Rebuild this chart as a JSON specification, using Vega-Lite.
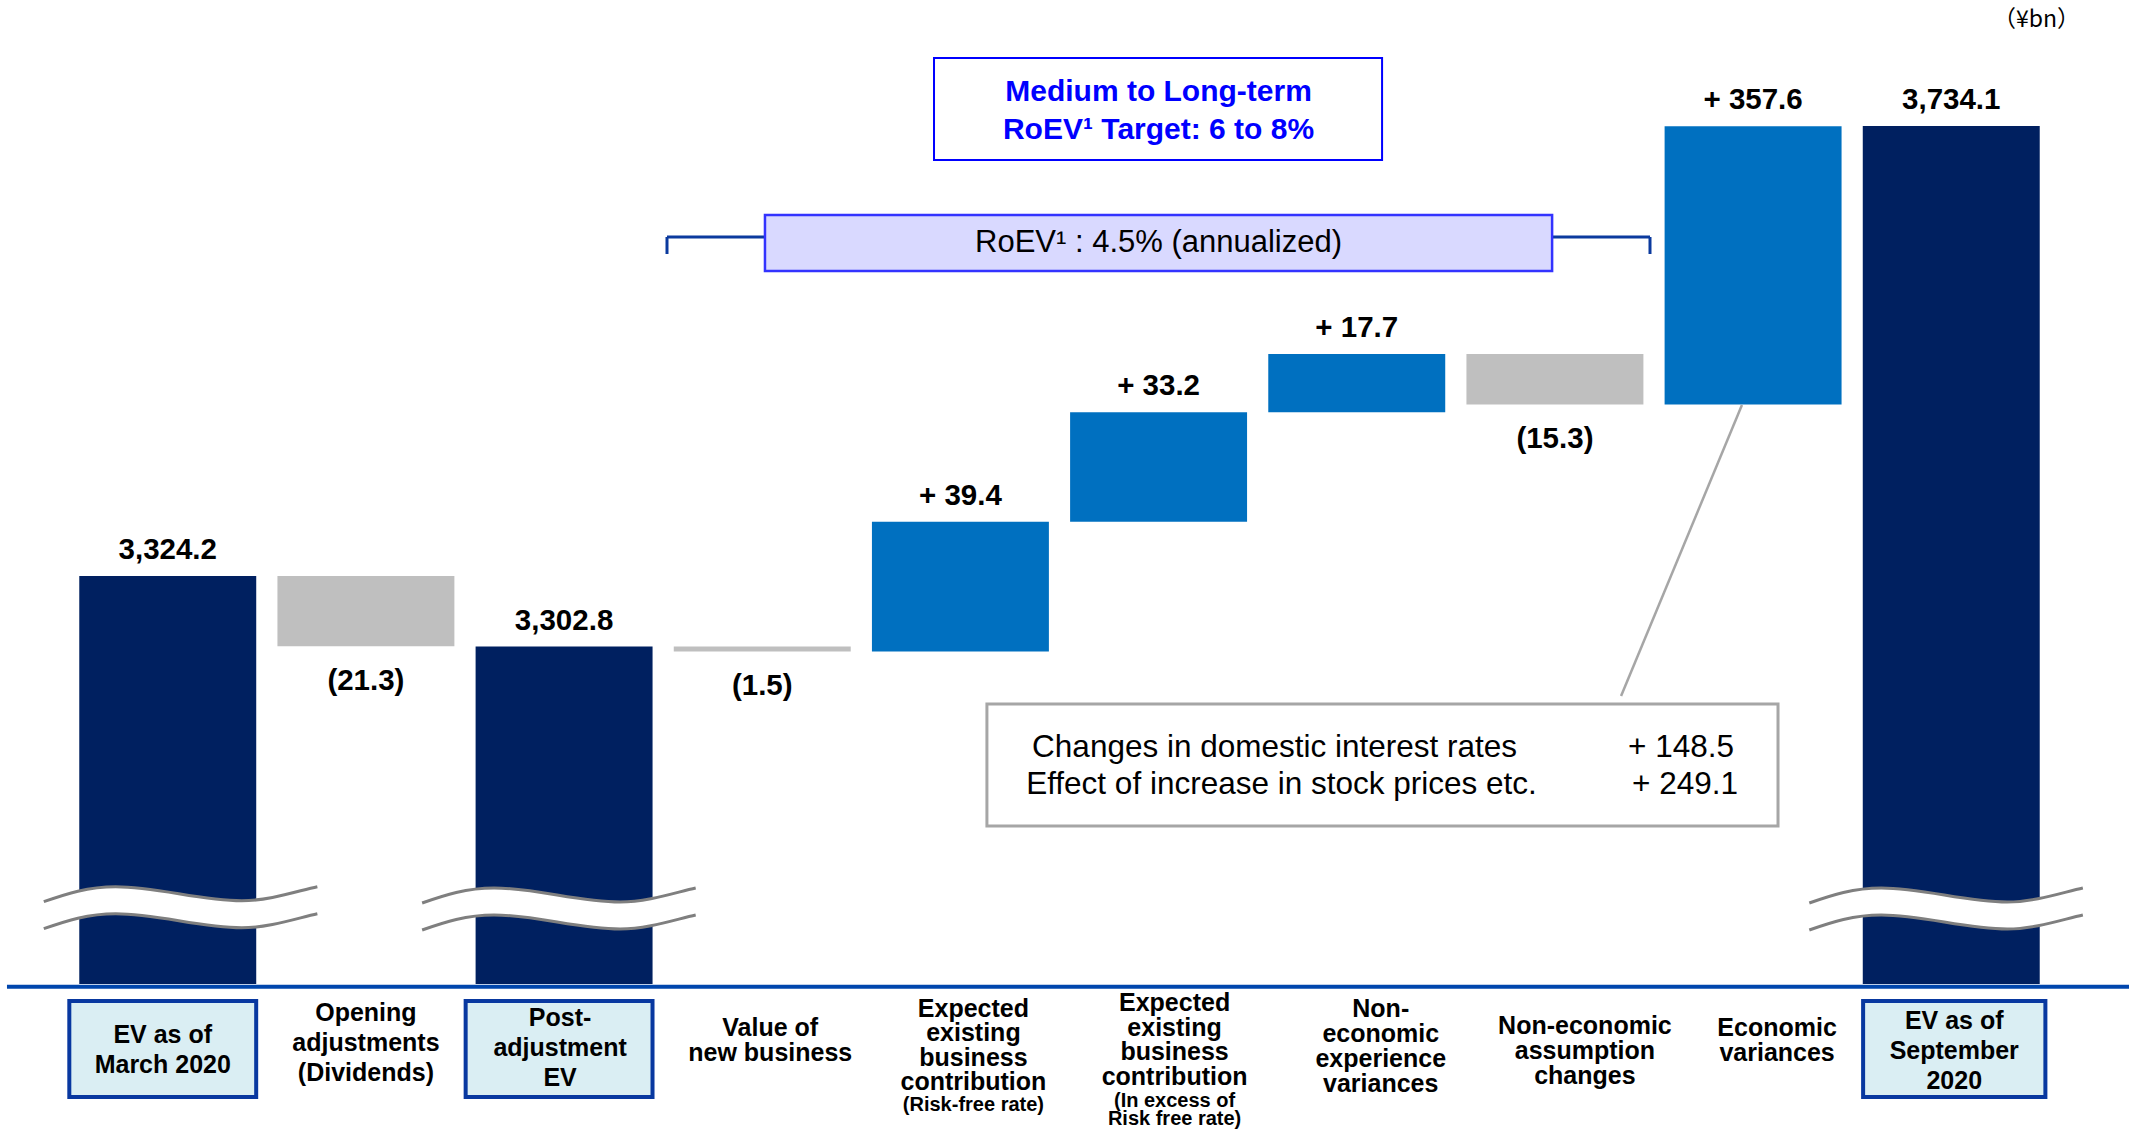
{
  "$schema": "https://vega.github.io/schema/vega-lite/v6.json",
  "width": 2129,
  "height": 1132,
  "padding": 0,
  "autosize": "none",
  "background": "white",
  "config": {
    "view": {"stroke": null},
    "axis": {"disable": true},
    "text": {"font": "Liberation Sans", "color": "#000000"}
  },
  "layer": [
    {
      "data": {
        "values": [
          {"cat": "EV as of March 2020", "label": "EV as of\nMarch 2020", "kind": "total", "start": 0, "end": 3324.2, "text": "3,324.2"},
          {"cat": "Opening adjustments (Dividends)", "label": "Opening\nadjustments\n(Dividends)", "kind": "decrease", "start": 3324.2, "end": 3302.9, "text": "(21.3)"},
          {"cat": "Post-adjustment EV", "label": "Post-\nadjustment\nEV", "kind": "total", "start": 0, "end": 3302.8, "text": "3,302.8"},
          {"cat": "Value of new business", "label": "Value of\nnew business", "kind": "decrease", "start": 3302.8, "end": 3301.3, "text": "(1.5)"},
          {"cat": "Expected existing business contribution (Risk-free rate)", "label": "Expected\nexisting\nbusiness\ncontribution", "sub": "(Risk-free rate)", "kind": "increase", "start": 3301.3, "end": 3340.7, "text": "+ 39.4"},
          {"cat": "Expected existing business contribution (In excess of Risk free rate)", "label": "Expected\nexisting\nbusiness\ncontribution", "sub": "(In excess of\nRisk free rate)", "kind": "increase", "start": 3340.7, "end": 3373.9, "text": "+ 33.2"},
          {"cat": "Non-economic experience variances", "label": "Non-\neconomic\nexperience\nvariances", "kind": "increase", "start": 3373.9, "end": 3391.6, "text": "+ 17.7"},
          {"cat": "Non-economic assumption changes", "label": "Non-economic\nassumption\nchanges", "kind": "decrease", "start": 3391.6, "end": 3376.3, "text": "(15.3)"},
          {"cat": "Economic variances", "label": "Economic\nvariances", "kind": "increase", "start": 3376.3, "end": 3733.9, "text": "+ 357.6"},
          {"cat": "EV as of September 2020", "label": "EV as of\nSeptember\n2020", "kind": "total", "start": 0, "end": 3734.1, "text": "3,734.1"}
        ]
      },
      "encoding": {
        "x": {"field": "cat", "type": "nominal", "sort": null, "axis": null,
              "scale": {"range": [0, 2119], "paddingInner": 0.107, "paddingOuter": 0.4}}
      },
      "layer": [
        {
          "mark": {"type": "bar"},
          "encoding": {
            "y": {"field": "start", "type": "quantitative", "axis": null,
                  "scale": {"domain": [0, 3290, 3391.6, 3734.1, 3920], "range": [984, 688.7, 354, 126, 0], "nice": false, "zero": false}},
            "y2": {"field": "end"},
            "color": {"field": "kind", "type": "nominal", "legend": null,
                      "scale": {"domain": ["total", "increase", "decrease"], "range": ["#002060", "#0070C0", "#BFBFBF"]}}
          }
        },
        {
          "transform": [{"filter": "datum.kind == 'total' && datum.cat != 'EV as of March 2020'"}],
          "mark": {"type": "point", "shape": "M-1.014,-0.043 C-0.85,-0.1 -0.7,-0.15 -0.5,-0.15 C-0.2,-0.15 0.1,-0.05 0.4,-0.05 C0.6,-0.05 0.8,-0.12 0.94,-0.15 L0.94,0.043 C0.8,0.073 0.6,0.143 0.4,0.143 C0.1,0.143 -0.2,0.043 -0.5,0.043 C-0.7,0.043 -0.85,0.093 -1.014,0.15 Z",
                   "size": 78400, "filled": true, "fill": "#ffffff", "strokeWidth": 0, "opacity": 1},
          "encoding": {"y": {"datum": 835.6, "type": "quantitative", "scale": {"domain": [0, 3290, 3391.6, 3734.1, 3920], "range": [984, 688.7, 354, 126, 0], "nice": false, "zero": false}}}
        },
        {
          "transform": [{"filter": "datum.kind == 'total' && datum.cat != 'EV as of March 2020'"}],
          "mark": {"type": "point", "shape": "M-1.014,-0.043 C-0.85,-0.1 -0.7,-0.15 -0.5,-0.15 C-0.2,-0.15 0.1,-0.05 0.4,-0.05 C0.6,-0.05 0.8,-0.12 0.94,-0.15 M-1.014,0.15 C-0.85,0.093 -0.7,0.043 -0.5,0.043 C-0.2,0.043 0.1,0.143 0.4,0.143 C0.6,0.143 0.8,0.073 0.94,0.043",
                   "size": 78400, "filled": false, "stroke": "#7F7F7F", "strokeWidth": 3, "opacity": 1},
          "encoding": {"y": {"datum": 835.6, "type": "quantitative", "scale": {"domain": [0, 3290, 3391.6, 3734.1, 3920], "range": [984, 688.7, 354, 126, 0], "nice": false, "zero": false}}}
        },
        {
          "transform": [{"filter": "datum.cat == 'EV as of March 2020'"}],
          "mark": {"type": "point", "xOffset": 18, "shape": "M-1.014,-0.043 C-0.85,-0.1 -0.7,-0.15 -0.5,-0.15 C-0.2,-0.15 0.1,-0.05 0.4,-0.05 C0.6,-0.05 0.8,-0.12 0.94,-0.15 L0.94,0.043 C0.8,0.073 0.6,0.143 0.4,0.143 C0.1,0.143 -0.2,0.043 -0.5,0.043 C-0.7,0.043 -0.85,0.093 -1.014,0.15 Z",
                   "size": 78400, "filled": true, "fill": "#ffffff", "strokeWidth": 0, "opacity": 1},
          "encoding": {"y": {"datum": 850, "type": "quantitative", "scale": {"domain": [0, 3290, 3391.6, 3734.1, 3920], "range": [984, 688.7, 354, 126, 0], "nice": false, "zero": false}}}
        },
        {
          "transform": [{"filter": "datum.cat == 'EV as of March 2020'"}],
          "mark": {"type": "point", "xOffset": 18, "shape": "M-1.014,-0.043 C-0.85,-0.1 -0.7,-0.15 -0.5,-0.15 C-0.2,-0.15 0.1,-0.05 0.4,-0.05 C0.6,-0.05 0.8,-0.12 0.94,-0.15 M-1.014,0.15 C-0.85,0.093 -0.7,0.043 -0.5,0.043 C-0.2,0.043 0.1,0.143 0.4,0.143 C0.6,0.143 0.8,0.073 0.94,0.043",
                   "size": 78400, "filled": false, "stroke": "#7F7F7F", "strokeWidth": 3, "opacity": 1},
          "encoding": {"y": {"datum": 850, "type": "quantitative", "scale": {"domain": [0, 3290, 3391.6, 3734.1, 3920], "range": [984, 688.7, 354, 126, 0], "nice": false, "zero": false}}}
        },
        {
          "transform": [{"filter": "datum.kind != 'decrease'"}],
          "mark": {"type": "text", "fontSize": 29.5, "fontWeight": "bold", "baseline": "middle", "dy": -26},
          "encoding": {
            "y": {"field": "end", "type": "quantitative", "scale": {"domain": [0, 3290, 3391.6, 3734.1, 3920], "range": [984, 688.7, 354, 126, 0], "nice": false, "zero": false}},
            "text": {"field": "text"}
          }
        },
        {
          "transform": [{"filter": "datum.kind == 'decrease'"}],
          "mark": {"type": "text", "fontSize": 29.5, "fontWeight": "bold", "baseline": "middle", "dy": 35},
          "encoding": {
            "y": {"field": "end", "type": "quantitative", "scale": {"domain": [0, 3290, 3391.6, 3734.1, 3920], "range": [984, 688.7, 354, 126, 0], "nice": false, "zero": false}},
            "text": {"field": "text"}
          }
        },
        {
          "transform": [{"filter": {"field": "cat", "oneOf": ["EV as of March 2020", "Post-adjustment EV"]}}],
          "mark": {"type": "bar", "width": {"band": 1.056}, "xOffset": -5, "fill": "#DAEEF3", "stroke": "#0838A0", "strokeWidth": 4},
          "encoding": {
            "y": {"datum": -189.4, "type": "quantitative", "scale": {"domain": [0, 3290, 3391.6, 3734.1, 3920], "range": [984, 688.7, 354, 126, 0], "nice": false, "zero": false}},
            "y2": {"datum": -1259}
          }
        },
        {
          "transform": [{"filter": "datum.cat == 'EV as of September 2020'"}],
          "mark": {"type": "bar", "width": {"band": 1.03}, "xOffset": 3, "fill": "#DAEEF3", "stroke": "#0838A0", "strokeWidth": 4},
          "encoding": {
            "y": {"datum": -189.4, "type": "quantitative", "scale": {"domain": [0, 3290, 3391.6, 3734.1, 3920], "range": [984, 688.7, 354, 126, 0], "nice": false, "zero": false}},
            "y2": {"datum": -1259}
          }
        },
        {
          "transform": [{"filter": "datum.cat == 'EV as of March 2020'"}],
          "mark": {"type": "text", "fontSize": 25, "fontWeight": "bold", "baseline": "middle", "lineBreak": "\n", "lineHeight": 30, "dx": -5},
          "encoding": {
            "y": {"datum": -564.9, "type": "quantitative", "scale": {"domain": [0, 3290, 3391.6, 3734.1, 3920], "range": [984, 688.7, 354, 126, 0], "nice": false, "zero": false}},
            "text": {"field": "label"}
          }
        },
        {
          "transform": [{"filter": "datum.cat == 'Opening adjustments (Dividends)'"}],
          "mark": {"type": "text", "fontSize": 25, "fontWeight": "bold", "baseline": "middle", "lineBreak": "\n", "lineHeight": 30, "dx": 0},
          "encoding": {
            "y": {"datum": -323.1, "type": "quantitative", "scale": {"domain": [0, 3290, 3391.6, 3734.1, 3920], "range": [984, 688.7, 354, 126, 0], "nice": false, "zero": false}},
            "text": {"field": "label"}
          }
        },
        {
          "transform": [{"filter": "datum.cat == 'Post-adjustment EV'"}],
          "mark": {"type": "text", "fontSize": 25, "fontWeight": "bold", "baseline": "middle", "lineBreak": "\n", "lineHeight": 30, "dx": -4},
          "encoding": {
            "y": {"datum": -378.8, "type": "quantitative", "scale": {"domain": [0, 3290, 3391.6, 3734.1, 3920], "range": [984, 688.7, 354, 126, 0], "nice": false, "zero": false}},
            "text": {"field": "label"}
          }
        },
        {
          "transform": [{"filter": "datum.cat == 'EV as of September 2020'"}],
          "mark": {"type": "text", "fontSize": 25, "fontWeight": "bold", "baseline": "middle", "lineBreak": "\n", "lineHeight": 30, "dx": 3},
          "encoding": {
            "y": {"datum": -412.2, "type": "quantitative", "scale": {"domain": [0, 3290, 3391.6, 3734.1, 3920], "range": [984, 688.7, 354, 126, 0], "nice": false, "zero": false}},
            "text": {"field": "label"}
          }
        },
        {
          "transform": [{"filter": "datum.cat == 'Value of new business'"}],
          "mark": {"type": "text", "fontSize": 25, "fontWeight": "bold", "baseline": "middle", "lineBreak": "\n", "lineHeight": 25, "dx": 8},
          "encoding": {
            "y": {"datum": -490.2, "type": "quantitative", "scale": {"domain": [0, 3290, 3391.6, 3734.1, 3920], "range": [984, 688.7, 354, 126, 0], "nice": false, "zero": false}},
            "text": {"field": "label"}
          }
        },
        {
          "transform": [{"filter": "datum.cat == 'Expected existing business contribution (Risk-free rate)'"}],
          "mark": {"type": "text", "fontSize": 25, "fontWeight": "bold", "baseline": "middle", "lineBreak": "\n", "lineHeight": 24.5, "dx": 13},
          "encoding": {
            "y": {"datum": -278.5, "type": "quantitative", "scale": {"domain": [0, 3290, 3391.6, 3734.1, 3920], "range": [984, 688.7, 354, 126, 0], "nice": false, "zero": false}},
            "text": {"field": "label"}
          }
        },
        {
          "transform": [{"filter": "datum.cat == 'Expected existing business contribution (In excess of Risk free rate)'"}],
          "mark": {"type": "text", "fontSize": 25, "fontWeight": "bold", "baseline": "middle", "lineBreak": "\n", "lineHeight": 24.5, "dx": 16},
          "encoding": {
            "y": {"datum": -211.7, "type": "quantitative", "scale": {"domain": [0, 3290, 3391.6, 3734.1, 3920], "range": [984, 688.7, 354, 126, 0], "nice": false, "zero": false}},
            "text": {"field": "label"}
          }
        },
        {
          "transform": [{"filter": "datum.cat == 'Non-economic experience variances'"}],
          "mark": {"type": "text", "fontSize": 25, "fontWeight": "bold", "baseline": "middle", "lineBreak": "\n", "lineHeight": 25, "dx": 24},
          "encoding": {
            "y": {"datum": -278.5, "type": "quantitative", "scale": {"domain": [0, 3290, 3391.6, 3734.1, 3920], "range": [984, 688.7, 354, 126, 0], "nice": false, "zero": false}},
            "text": {"field": "label"}
          }
        },
        {
          "transform": [{"filter": "datum.cat == 'Non-economic assumption changes'"}],
          "mark": {"type": "text", "fontSize": 25, "fontWeight": "bold", "baseline": "middle", "lineBreak": "\n", "lineHeight": 25, "dx": 30},
          "encoding": {
            "y": {"datum": -473.5, "type": "quantitative", "scale": {"domain": [0, 3290, 3391.6, 3734.1, 3920], "range": [984, 688.7, 354, 126, 0], "nice": false, "zero": false}},
            "text": {"field": "label"}
          }
        },
        {
          "transform": [{"filter": "datum.cat == 'Economic variances'"}],
          "mark": {"type": "text", "fontSize": 25, "fontWeight": "bold", "baseline": "middle", "lineBreak": "\n", "lineHeight": 25, "dx": 24},
          "encoding": {
            "y": {"datum": -490.2, "type": "quantitative", "scale": {"domain": [0, 3290, 3391.6, 3734.1, 3920], "range": [984, 688.7, 354, 126, 0], "nice": false, "zero": false}},
            "text": {"field": "label"}
          }
        },
        {
          "transform": [{"filter": "datum.cat == 'Expected existing business contribution (Risk-free rate)'"}],
          "mark": {"type": "text", "fontSize": 20, "fontWeight": "bold", "baseline": "middle", "lineBreak": "\n", "lineHeight": 18, "dx": 13},
          "encoding": {
            "y": {"datum": -1348.1, "type": "quantitative", "scale": {"domain": [0, 3290, 3391.6, 3734.1, 3920], "range": [984, 688.7, 354, 126, 0], "nice": false, "zero": false}},
            "text": {"field": "sub"}
          }
        },
        {
          "transform": [{"filter": "datum.cat == 'Expected existing business contribution (In excess of Risk free rate)'"}],
          "mark": {"type": "text", "fontSize": 20, "fontWeight": "bold", "baseline": "middle", "lineBreak": "\n", "lineHeight": 18, "dx": 16},
          "encoding": {
            "y": {"datum": -1303.5, "type": "quantitative", "scale": {"domain": [0, 3290, 3391.6, 3734.1, 3920], "range": [984, 688.7, 354, 126, 0], "nice": false, "zero": false}},
            "text": {"field": "sub"}
          }
        }
      ]
    },
    {
      "data": {"values": [{}]},
      "layer": [
        {
          "mark": {"type": "rule", "stroke": "#0B3A9E", "strokeWidth": 3},
          "encoding": {
            "x": {"datum": 3.0196, "type": "quantitative", "axis": null, "scale": {"domain": [0, 10], "range": [68.6, 2050.3]}},
            "x2": {"datum": 7.98},
            "y": {"datum": 3567.4, "type": "quantitative", "scale": {"domain": [0, 3290, 3391.6, 3734.1, 3920], "range": [984, 688.7, 354, 126, 0], "nice": false, "zero": false}}
          }
        },
        {
          "mark": {"type": "rule", "stroke": "#0B3A9E", "strokeWidth": 3},
          "encoding": {
            "x": {"datum": 3.0196, "type": "quantitative", "axis": null, "scale": {"domain": [0, 10], "range": [68.6, 2050.3]}},
            "y": {"datum": 3567.4, "type": "quantitative", "scale": {"domain": [0, 3290, 3391.6, 3734.1, 3920], "range": [984, 688.7, 354, 126, 0], "nice": false, "zero": false}},
            "y2": {"datum": 3541.8}
          }
        },
        {
          "mark": {"type": "rule", "stroke": "#0B3A9E", "strokeWidth": 3},
          "encoding": {
            "x": {"datum": 7.98, "type": "quantitative", "axis": null, "scale": {"domain": [0, 10], "range": [68.6, 2050.3]}},
            "y": {"datum": 3567.4, "type": "quantitative", "scale": {"domain": [0, 3290, 3391.6, 3734.1, 3920], "range": [984, 688.7, 354, 126, 0], "nice": false, "zero": false}},
            "y2": {"datum": 3541.8}
          }
        },
        {
          "mark": {"type": "rect", "fill": "#D9D9FF", "stroke": "#3333FF", "strokeWidth": 2.5},
          "encoding": {
            "x": {"datum": 3.514, "type": "quantitative", "axis": null, "scale": {"domain": [0, 10], "range": [68.6, 2050.3]}},
            "x2": {"datum": 7.486},
            "y": {"datum": 3600.4, "type": "quantitative", "scale": {"domain": [0, 3290, 3391.6, 3734.1, 3920], "range": [984, 688.7, 354, 126, 0], "nice": false, "zero": false}},
            "y2": {"datum": 3516.3}
          }
        },
        {
          "mark": {"type": "text", "text": "RoEV¹ : 4.5% (annualized)", "fontSize": 31, "baseline": "middle", "align": "center"},
          "encoding": {
            "x": {"datum": 5.5, "type": "quantitative", "axis": null, "scale": {"domain": [0, 10], "range": [68.6, 2050.3]}},
            "y": {"datum": 3558.3, "type": "quantitative", "scale": {"domain": [0, 3290, 3391.6, 3734.1, 3920], "range": [984, 688.7, 354, 126, 0], "nice": false, "zero": false}}
          }
        },
        {
          "mark": {"type": "rect", "fill": "#FFFFFF", "stroke": "#0000FF", "strokeWidth": 2},
          "encoding": {
            "x": {"datum": 4.367, "type": "quantitative", "axis": null, "scale": {"domain": [0, 10], "range": [68.6, 2050.3]}},
            "x2": {"datum": 6.628},
            "y": {"datum": 3834.4, "type": "quantitative", "scale": {"domain": [0, 3290, 3391.6, 3734.1, 3920], "range": [984, 688.7, 354, 126, 0], "nice": false, "zero": false}},
            "y2": {"datum": 3683.0}
          }
        },
        {
          "mark": {"type": "text", "text": "Medium to Long-term\nRoEV¹ Target: 6 to 8%", "lineBreak": "\n", "lineHeight": 38, "fontSize": 30, "fontWeight": "bold", "color": "#0000FF", "baseline": "middle", "align": "center"},
          "encoding": {
            "x": {"datum": 5.5, "type": "quantitative", "axis": null, "scale": {"domain": [0, 10], "range": [68.6, 2050.3]}},
            "y": {"datum": 3784.3, "type": "quantitative", "scale": {"domain": [0, 3290, 3391.6, 3734.1, 3920], "range": [984, 688.7, 354, 126, 0], "nice": false, "zero": false}}
          }
        },
        {
          "mark": {"type": "rect", "fill": "#FFFFFF", "stroke": "#A6A6A6", "strokeWidth": 3},
          "encoding": {
            "x": {"datum": 4.634, "type": "quantitative", "axis": null, "scale": {"domain": [0, 10], "range": [68.6, 2050.3]}},
            "x2": {"datum": 8.626},
            "y": {"datum": 3119.5, "type": "quantitative", "scale": {"domain": [0, 3290, 3391.6, 3734.1, 3920], "range": [984, 688.7, 354, 126, 0], "nice": false, "zero": false}},
            "y2": {"datum": 1760.3}
          }
        },
        {
          "mark": {"type": "rule", "stroke": "#A6A6A6", "strokeWidth": 2.5},
          "encoding": {
            "x": {"datum": 8.444, "type": "quantitative", "axis": null, "scale": {"domain": [0, 10], "range": [68.6, 2050.3]}},
            "x2": {"datum": 7.834},
            "y": {"datum": 3376.1, "type": "quantitative", "scale": {"domain": [0, 3290, 3391.6, 3734.1, 3920], "range": [984, 688.7, 354, 126, 0], "nice": false, "zero": false}},
            "y2": {"datum": 3208.7}
          }
        },
        {
          "mark": {"type": "text", "text": "Changes in domestic interest rates", "fontSize": 31.5, "baseline": "middle", "align": "left"},
          "encoding": {
            "x": {"datum": 4.862, "type": "quantitative", "axis": null, "scale": {"domain": [0, 10], "range": [68.6, 2050.3]}},
            "y": {"datum": 2629.3, "type": "quantitative", "scale": {"domain": [0, 3290, 3391.6, 3734.1, 3920], "range": [984, 688.7, 354, 126, 0], "nice": false, "zero": false}}
          }
        },
        {
          "mark": {"type": "text", "text": "Effect of increase in stock prices etc.", "fontSize": 31.5, "baseline": "middle", "align": "left"},
          "encoding": {
            "x": {"datum": 4.832, "type": "quantitative", "axis": null, "scale": {"domain": [0, 10], "range": [68.6, 2050.3]}},
            "y": {"datum": 2217.1, "type": "quantitative", "scale": {"domain": [0, 3290, 3391.6, 3734.1, 3920], "range": [984, 688.7, 354, 126, 0], "nice": false, "zero": false}}
          }
        },
        {
          "mark": {"type": "text", "text": "+ 148.5", "fontSize": 31.5, "baseline": "middle", "align": "right"},
          "encoding": {
            "x": {"datum": 8.404, "type": "quantitative", "axis": null, "scale": {"domain": [0, 10], "range": [68.6, 2050.3]}},
            "y": {"datum": 2629.3, "type": "quantitative", "scale": {"domain": [0, 3290, 3391.6, 3734.1, 3920], "range": [984, 688.7, 354, 126, 0], "nice": false, "zero": false}}
          }
        },
        {
          "mark": {"type": "text", "text": "+ 249.1", "fontSize": 31.5, "baseline": "middle", "align": "right"},
          "encoding": {
            "x": {"datum": 8.424, "type": "quantitative", "axis": null, "scale": {"domain": [0, 10], "range": [68.6, 2050.3]}},
            "y": {"datum": 2217.1, "type": "quantitative", "scale": {"domain": [0, 3290, 3391.6, 3734.1, 3920], "range": [984, 688.7, 354, 126, 0], "nice": false, "zero": false}}
          }
        },
        {
          "mark": {"type": "text", "text": "（¥bn）", "font": "Noto Sans CJK JP", "fontSize": 23, "baseline": "middle", "align": "right"},
          "encoding": {
            "x": {"datum": 10.15, "type": "quantitative", "axis": null, "scale": {"domain": [0, 10], "range": [68.6, 2050.3]}},
            "y": {"datum": 3890, "type": "quantitative", "scale": {"domain": [0, 3290, 3391.6, 3734.1, 3920], "range": [984, 688.7, 354, 126, 0], "nice": false, "zero": false}}
          }
        },
        {
          "mark": {"type": "rule", "stroke": "#0046AD", "strokeWidth": 4},
          "encoding": {
            "x": {"datum": -0.311, "type": "quantitative", "axis": null, "scale": {"domain": [0, 10], "range": [68.6, 2050.3]}},
            "x2": {"datum": 10.5},
            "y": {"datum": -30, "type": "quantitative", "scale": {"domain": [0, 3290, 3391.6, 3734.1, 3920], "range": [984, 688.7, 354, 126, 0], "nice": false, "zero": false}}
          }
        }
      ]
    }
  ],
  "resolve": {"scale": {"x": "independent"}}
}
